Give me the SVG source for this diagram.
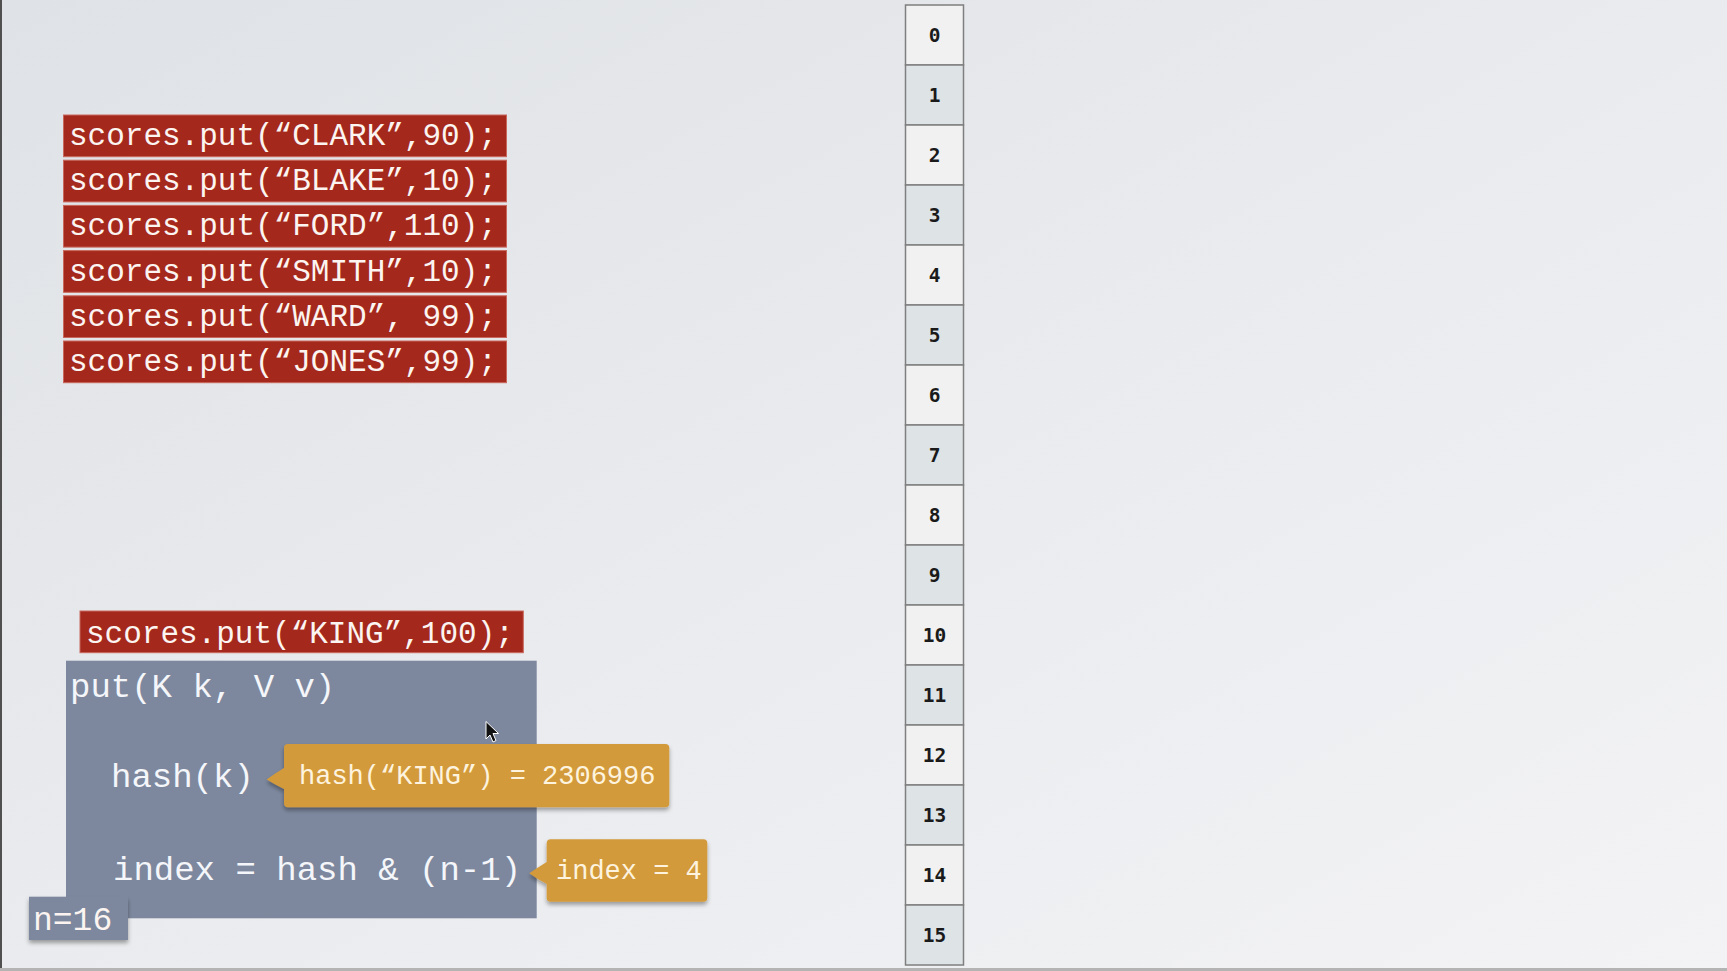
<svg xmlns="http://www.w3.org/2000/svg" width="1727" height="971" viewBox="0 0 1727 971">
<defs>
<linearGradient id="bg" x1="0" y1="0" x2="1" y2="1">
<stop offset="0" stop-color="#dfe2e6"/>
<stop offset="0.5" stop-color="#e9ebee"/>
<stop offset="1" stop-color="#f3f3f5"/>
</linearGradient>
<filter id="sh" x="-10%" y="-20%" width="120%" height="150%">
<feDropShadow dx="0" dy="3" stdDeviation="2" flood-color="#000" flood-opacity="0.35"/>
</filter>
</defs>
<style>
.red{fill:#a5281c;stroke:#c8675c;stroke-width:1}
.code{font-family:"Liberation Mono","DejaVu Sans Mono",monospace;fill:#fbf4f0}
.rt{font-size:31px}
.gt{font-size:34px;fill:#f4f6fa}
.gray{fill:#7d889e}
.call{fill:#d39a3b}
.ct{font-size:27px;fill:#fdf3de}
.cellA{fill:#f1f1f1;stroke:#7f7f7f;stroke-width:1.5}
.cellB{fill:#dee3e6;stroke:#7f7f7f;stroke-width:1.5}
.num{font-family:"DejaVu Sans Mono",monospace;font-weight:bold;font-size:19.5px;fill:#1a1a1a;text-anchor:middle}
</style>
<rect x="0" y="0" width="1727" height="971" fill="url(#bg)"/>
<rect x="0" y="0" width="2" height="971" fill="#505050"/>
<rect x="0" y="968" width="1727" height="3" fill="#b4b4b4"/>

<g id="puts">
<g id="put-clark"><rect class="red" x="63.5" y="115" width="443" height="41.7"/><text class="code rt" x="69" y="145">scores.put(“CLARK”,90);</text></g>
<g id="put-blake"><rect class="red" x="63.5" y="160.2" width="443" height="41.7"/><text class="code rt" x="69" y="190.2">scores.put(“BLAKE”,10);</text></g>
<g id="put-ford"><rect class="red" x="63.5" y="205.4" width="443" height="41.7"/><text class="code rt" x="69" y="235.4">scores.put(“FORD”,110);</text></g>
<g id="put-smith"><rect class="red" x="63.5" y="250.6" width="443" height="41.7"/><text class="code rt" x="69" y="280.6">scores.put(“SMITH”,10);</text></g>
<g id="put-ward"><rect class="red" x="63.5" y="295.8" width="443" height="41.7"/><text class="code rt" x="69" y="325.8">scores.put(“WARD”, 99);</text></g>
<g id="put-jones"><rect class="red" x="63.5" y="341" width="443" height="41.7"/><text class="code rt" x="69" y="371">scores.put(“JONES”,99);</text></g>
</g>

<g id="put-king"><rect class="red" x="80" y="611" width="443.3" height="41.7"/><text class="code rt" x="86" y="642.5">scores.put(“KING”,100);</text></g>

<g id="put-method">
<rect class="gray" x="66" y="660.7" width="470.7" height="257.6"/>
<text class="code gt" x="70" y="697">put(K k, V v)</text>
<text class="code gt" x="111" y="787">hash(k)</text>
<text class="code gt" x="113" y="880">index = hash &amp; (n-1)</text>
</g>

<g id="n-label">
<rect class="gray" x="29" y="896.7" width="99" height="43.3" filter="url(#sh)"/>
<text class="code" x="33" y="930" font-size="33" fill="#f4f6fa">n=16</text>
</g>

<g id="hash-callout">
<path class="call" filter="url(#sh)" d="M288,744 H665.3 Q669.3,744 669.3,748 V803.3 Q669.3,807.3 665.3,807.3 H288 Q284,807.3 284,803.3 V789 Q274,784 266.7,779.5 Q274,774 284,768 V748 Q284,744 288,744 Z"/>
<text class="code ct" x="299" y="783.5">hash(“KING”) = 2306996</text>
</g>

<g id="index-callout">
<path class="call" filter="url(#sh)" d="M550.7,839.3 H703.3 Q707.3,839.3 707.3,843.3 V897.7 Q707.3,901.7 703.3,901.7 H550.7 Q546.7,901.7 546.7,897.7 V884 Q537,879 529.3,873.3 Q537,868 546.7,862 V843.3 Q546.7,839.3 550.7,839.3 Z"/>
<text class="code ct" x="556" y="878.5">index = 4</text>
</g>

<g id="connectors"/>

<g id="cursor">
<path d="M486,721.5 L486,739 L490,735 L493,742 L496,740.5 L493,733.5 L498.5,733.5 Z" fill="#111" stroke="#fff" stroke-width="1"/>
</g>

<g id="table">
<g id="cell-0"><rect class="cellA" x="905.5" y="5" width="58" height="60"/><text class="num" x="934.5" y="42">0</text></g>
<g id="cell-1"><rect class="cellB" x="905.5" y="65" width="58" height="60"/><text class="num" x="934.5" y="102">1</text></g>
<g id="cell-2"><rect class="cellA" x="905.5" y="125" width="58" height="60"/><text class="num" x="934.5" y="162">2</text></g>
<g id="cell-3"><rect class="cellB" x="905.5" y="185" width="58" height="60"/><text class="num" x="934.5" y="222">3</text></g>
<g id="cell-4"><rect class="cellA" x="905.5" y="245" width="58" height="60"/><text class="num" x="934.5" y="282">4</text></g>
<g id="cell-5"><rect class="cellB" x="905.5" y="305" width="58" height="60"/><text class="num" x="934.5" y="342">5</text></g>
<g id="cell-6"><rect class="cellA" x="905.5" y="365" width="58" height="60"/><text class="num" x="934.5" y="402">6</text></g>
<g id="cell-7"><rect class="cellB" x="905.5" y="425" width="58" height="60"/><text class="num" x="934.5" y="462">7</text></g>
<g id="cell-8"><rect class="cellA" x="905.5" y="485" width="58" height="60"/><text class="num" x="934.5" y="522">8</text></g>
<g id="cell-9"><rect class="cellB" x="905.5" y="545" width="58" height="60"/><text class="num" x="934.5" y="582">9</text></g>
<g id="cell-10"><rect class="cellA" x="905.5" y="605" width="58" height="60"/><text class="num" x="934.5" y="642">10</text></g>
<g id="cell-11"><rect class="cellB" x="905.5" y="665" width="58" height="60"/><text class="num" x="934.5" y="702">11</text></g>
<g id="cell-12"><rect class="cellA" x="905.5" y="725" width="58" height="60"/><text class="num" x="934.5" y="762">12</text></g>
<g id="cell-13"><rect class="cellB" x="905.5" y="785" width="58" height="60"/><text class="num" x="934.5" y="822">13</text></g>
<g id="cell-14"><rect class="cellA" x="905.5" y="845" width="58" height="60"/><text class="num" x="934.5" y="882">14</text></g>
<g id="cell-15"><rect class="cellB" x="905.5" y="905" width="58" height="60"/><text class="num" x="934.5" y="942">15</text></g>
</g>
</svg>
